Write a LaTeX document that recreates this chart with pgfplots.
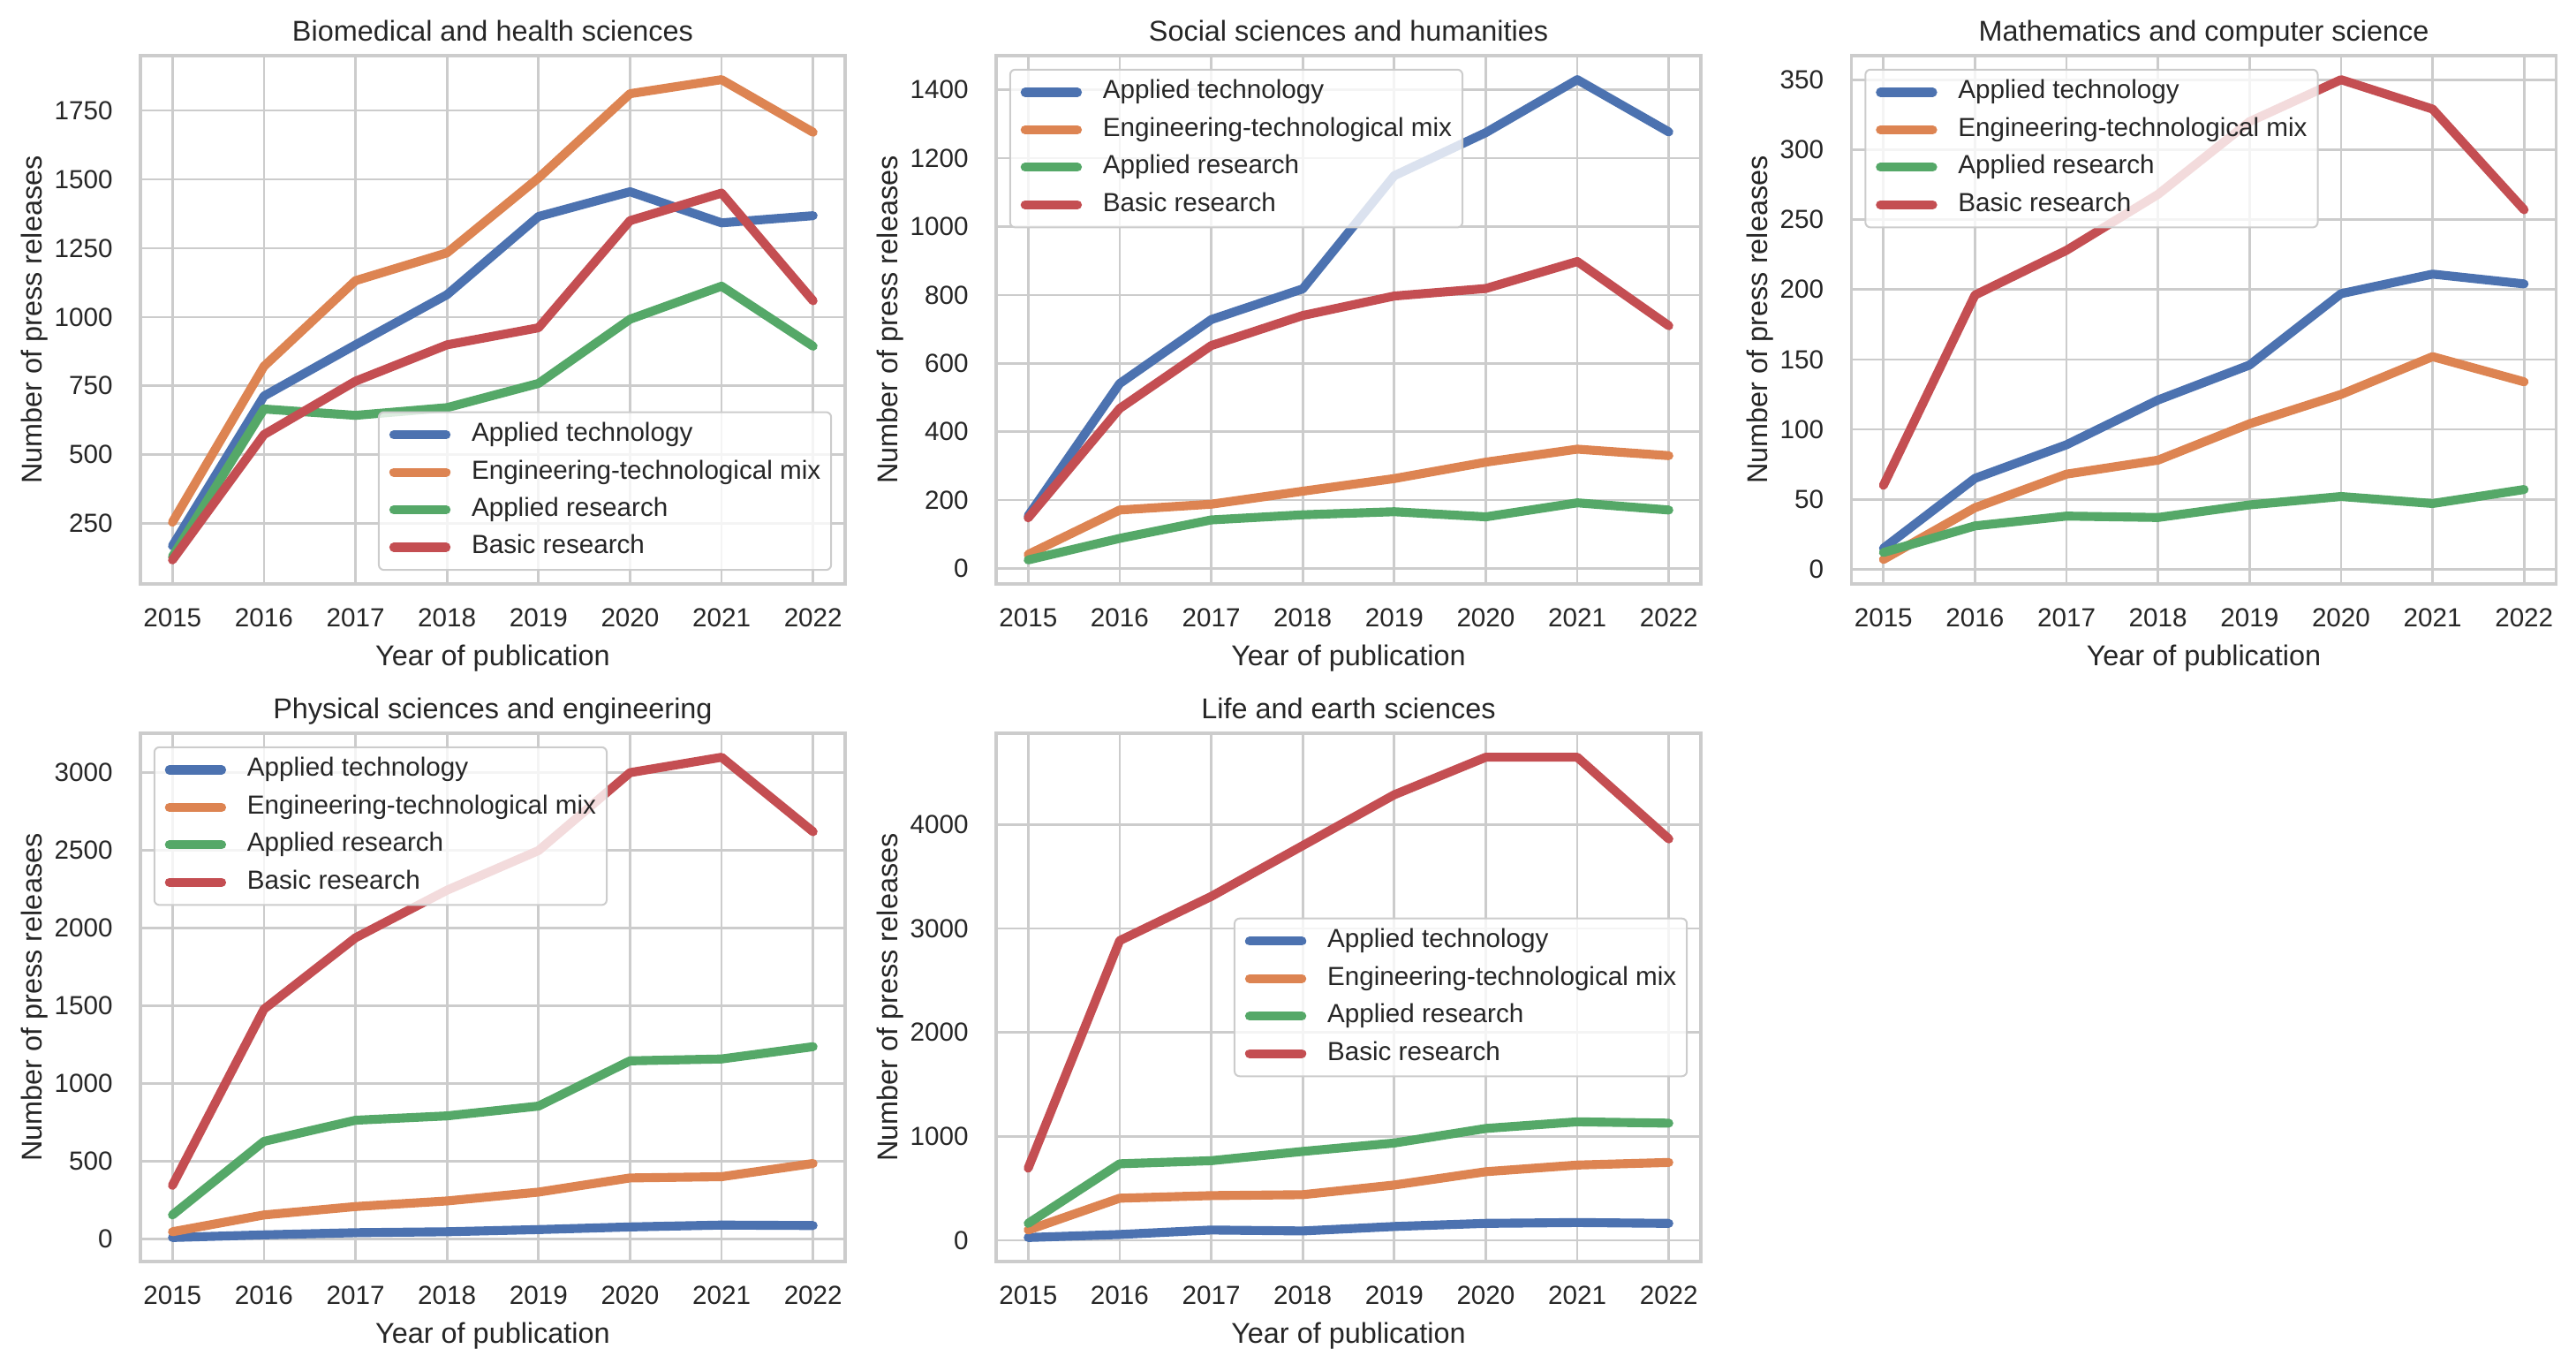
\documentclass[border=0pt]{standalone}
\usepackage{fontspec}
\setmainfont{Liberation Sans}
\usepackage{pgfplots}
\usepackage{pgfplotstable}
\pgfplotsset{compat=1.18}
\definecolor{sbblue}{HTML}{4C72B0}
\definecolor{sborange}{HTML}{DD8452}
\definecolor{sbgreen}{HTML}{55A868}
\definecolor{sbred}{HTML}{C44E52}
\definecolor{gridc}{HTML}{CCCCCC}
\definecolor{txt}{HTML}{262626}

\pgfplotstableread{
year at etm ar br
2015 169 255 130 118
2016 713 821 666 573
2017 899 1132 643 767
2018 1081 1233 671 899
2019 1365 1505 759 961
2020 1455 1811 992 1350
2021 1342 1862 1112 1450
2022 1368 1671 894 1059
}\biomed
\pgfplotstableread{
year at etm ar br
2015 154 41 25 148
2016 541 171 88 468
2017 728 188 142 652
2018 818 226 157 740
2019 1149 263 166 797
2020 1275 311 151 819
2021 1430 349 192 898
2022 1277 330 171 710
}\social
\pgfplotstableread{
year at etm ar br
2015 15 7 12 60
2016 65 44 31 196
2017 89 68 38 228
2018 121 78 37 268
2019 146 104 46 320
2020 197 125 52 350
2021 211 152 47 329
2022 204 134 57 257
}\math
\pgfplotstableread{
year at etm ar br
2015 11 48 156 346
2016 28 156 629 1479
2017 42 210 765 1938
2018 48 246 793 2244
2019 62 303 856 2499
2020 79 394 1147 3000
2021 91 402 1159 3099
2022 88 487 1238 2620
}\phys
\pgfplotstableread{
year at etm ar br
2015 26 98 162 693
2016 55 404 735 2882
2017 98 429 765 3307
2018 89 438 854 3796
2019 132 531 935 4285
2020 162 659 1075 4646
2021 170 723 1139 4646
2022 162 748 1126 3860
}\life

\pgfplotsset{
  panel/.style={
    scale only axis, width=315.15pt, height=236.17pt,
    anchor=south west,
    xmin=2014.65, xmax=2022.35,
    xtick={2015,2016,...,2022},
    grid=major,
    major grid style={draw=gridc, line width=1.06pt},
    axis line style={draw=gridc, line width=1.3pt},
    major tick length=0pt,
    scaled ticks=false,
    /pgf/number format/assume math mode=true,
    /pgf/number format/1000 sep={},
    tick label style={font=\fontsize{11.7}{14}\selectfont, text=txt, inner sep=0pt},
    xticklabel style={yshift=-10.8pt},
    yticklabel style={xshift=-12.2pt},
    xlabel={Year of publication},
    ylabel={Number of press releases},
    label style={font=\fontsize{12.8}{15}\selectfont, text=txt, inner sep=0pt},
    xlabel style={at={(axis description cs:0.5,0)}, anchor=north, yshift=-27pt},
    ylabel style={at={(ticklabel cs:0.5,2.9pt)}},
    title style={font=\fontsize{12.8}{15}\selectfont, text=txt, inner sep=0pt, anchor=base, at={(axis description cs:0.5,1)}, yshift=0.5pt},
    legend cell align=left,
    legend style={
      draw=gridc, line width=0.8pt, fill=white, fill opacity=0.8, text opacity=1,
      rounded corners=2.3pt,
      font=\fontsize{11.7}{14}\selectfont, text=txt,
      inner xsep=4.7pt, inner ysep=4.7pt,
      row sep=5.85pt, column sep=9.4pt,
      nodes={inner sep=0pt, text height=8.4pt, text depth=2.5pt},
    },
    legend image code/.code={
      \draw[line width=4pt, line cap=round] (0pt,0pt) -- (23.4pt,0pt);
    },
    every axis plot/.append style={line width=4pt, line cap=round, line join=round, mark=none},
    cycle list={{sbblue},{sborange},{sbgreen},{sbred}},
  },
  ul/.style={legend style={at={(0,1)}, anchor=north west, xshift=5.85pt, yshift=-5.85pt}},
}

\newcommand{\fourlines}[1]{%
  \addplot table[x=year, y=at] {#1};
  \addplot table[x=year, y=etm] {#1};
  \addplot table[x=year, y=ar] {#1};
  \addplot table[x=year, y=br] {#1};
  \legend{Applied technology, Engineering-technological mix, Applied research, Basic research}
}

\begin{document}
\begin{tikzpicture}
\path[use as bounding box] (0,0) rectangle (1152pt,609.77pt);

\begin{axis}[panel, at={(62.79pt,348.72pt)}, title={Biomedical and health sciences},
  ymin=30.8, ymax=1949.2, ytick={250,500,...,1750},
  legend style={at={(1,0)}, anchor=south east, xshift=-5.85pt, yshift=5.85pt}]
\fourlines{\biomed}
\end{axis}

\begin{axis}[panel, ul, at={(445.48pt,348.72pt)}, title={Social sciences and humanities},
  ymin=-45.25, ymax=1500.25, ytick={0,200,...,1400}]
\fourlines{\social}
\end{axis}

\begin{axis}[panel, ul, at={(827.96pt,348.72pt)}, title={Mathematics and computer science},
  ymin=-10.5, ymax=367.2, ytick={0,50,...,350}]
\fourlines{\math}
\end{axis}

\begin{axis}[panel, ul, at={(62.79pt,45.81pt)}, title={Physical sciences and engineering},
  ymin=-143.4, ymax=3253.4, ytick={0,500,...,3000}]
\fourlines{\phys}
\end{axis}

\begin{axis}[panel, at={(445.48pt,45.81pt)}, title={Life and earth sciences},
  ymin=-205, ymax=4877, ytick={0,1000,...,4000},
  legend style={at={(1,0.5)}, anchor=east, xshift=-5.85pt}]
\fourlines{\life}
\end{axis}
\end{tikzpicture}
\end{document}
